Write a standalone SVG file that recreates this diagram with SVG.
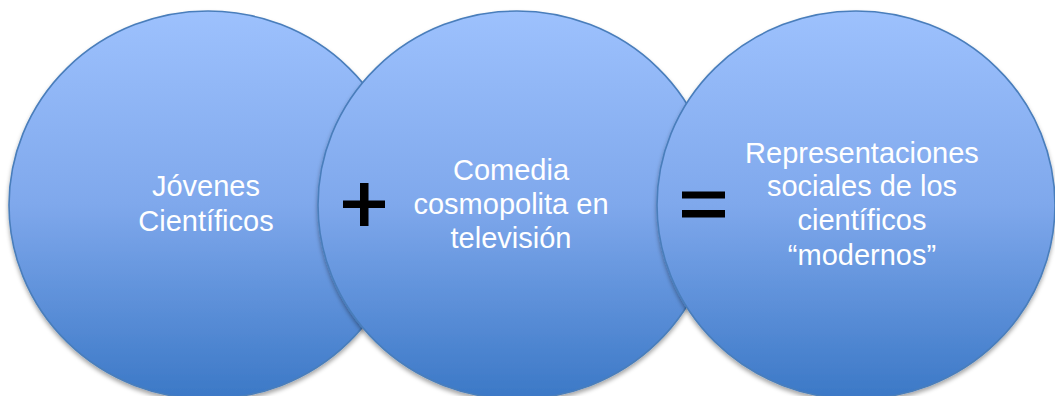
<svg xmlns="http://www.w3.org/2000/svg" width="1055" height="396" viewBox="0 0 1055 396">
  <defs>
    <linearGradient id="g" x1="0" y1="0" x2="0" y2="1">
      <stop offset="0" stop-color="#9DC1FD"/>
      <stop offset="0.5" stop-color="#7FA8EC"/>
      <stop offset="1" stop-color="#3B78C6"/>
    </linearGradient>
    <filter id="sh" x="-10%" y="-10%" width="120%" height="125%">
      <feDropShadow dx="0" dy="3" stdDeviation="2.2" flood-color="#000" flood-opacity="0.35"/>
    </filter>
  </defs>
  <style>
    .c { fill: url(#g); stroke: #4A7EBB; stroke-width: 1.6; filter: url(#sh); }
    .t { font-family: "Liberation Sans", Arial, sans-serif; font-size: 29px; fill: #FFFFFF; text-anchor: middle; }
    .op { fill: #000000; }
  </style>
  <rect width="1055" height="396" fill="#FFFFFF"/>
  <g id="node1">
    <ellipse class="c" cx="208" cy="205" rx="199" ry="194"/>
    <text class="t" x="206" y="196">Jóvenes</text>
    <text class="t" x="206" y="231">Científicos</text>
  </g>
  <g id="node2">
    <ellipse class="c" cx="517" cy="205" rx="199" ry="194"/>
    <text class="t" x="511" y="180">Comedia</text>
    <text class="t" x="511" y="214">cosmopolita en</text>
    <text class="t" x="511" y="248">televisión</text>
  </g>
  <g id="node3">
    <ellipse class="c" cx="856" cy="205" rx="199" ry="194"/>
    <text class="t" x="862" y="163">Representaciones</text>
    <text class="t" x="862" y="196">sociales de los</text>
    <text class="t" x="862" y="230">científicos</text>
    <text class="t" x="862" y="265">“modernos”</text>
  </g>
  <g id="connectors">
    <g id="plus" class="op">
      <rect x="343" y="200.5" width="42" height="7.5"/>
      <rect x="360" y="183" width="8.5" height="43"/>
    </g>
    <g id="equals" class="op">
      <rect x="682" y="191.5" width="43" height="7"/>
      <rect x="682" y="210" width="43" height="7.5"/>
    </g>
  </g>
</svg>
